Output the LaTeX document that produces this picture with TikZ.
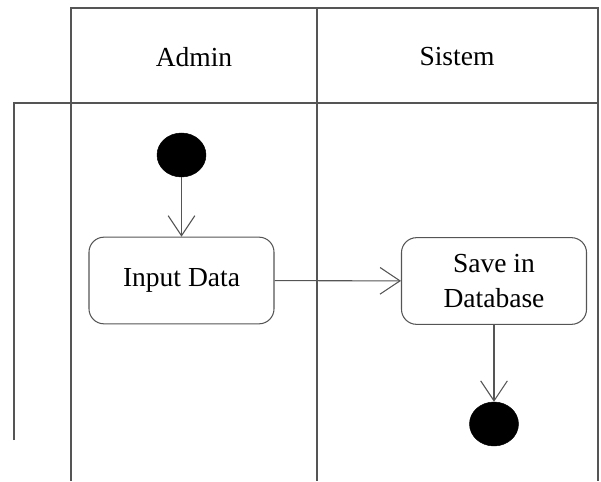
\documentclass[tikz,border=0pt]{standalone}
\usepackage{fontspec}
\setmainfont{Liberation Serif}
\usetikzlibrary{shapes.geometric, arrows.meta, positioning}
\definecolor{lanegray}{RGB}{85, 85, 85}

\begin{document}
\begin{tikzpicture}[
    x=0.03cm, y=-0.03cm,
    lane/.style={draw=lanegray, line width=1.2pt},
    action/.style={rectangle, draw=lanegray, line width=0.9pt, rounded corners=0.45cm, minimum width=5.55cm, minimum height=2.6cm, align=center, font=\fontsize{23.5}{30}\selectfont},
    blob/.style={ellipse, draw=black, fill=black, minimum width=1.47cm, minimum height=1.32cm, inner sep=0pt},
    title/.style={font=\fontsize{23.5}{30}\selectfont},
    arrow/.style={-{Straight Barb[length=0.6cm, width=0.8cm]}, line width=0.9pt, color=lanegray}
]
    \useasboundingbox (0,0) rectangle (601,481);

    % swimlanes
    \draw[lane] (71,8) rectangle (598,103);
    \draw[lane] (317,8) -- (317,481);
    \draw[lane] (71,103) -- (71,481);
    \draw[lane] (598,103) -- (598,481);
    \draw[lane] (14,440) -- (14,103) -- (598,103);
    \node[title] (admin) at (194,57) {Admin};
    \node[title] (sistem) at (457,57) {Sistem};

    % activities
    \node[blob] (start) at (181.5,155) {};
    \node[action] (input) at (181.5,280.5) {Input Data};
    \node[action] (save) at (494,281) {Save in\\Database};
    \node[blob] (stop) at (494,424) {};

    \draw[arrow] (start) -- (input);
    \draw[arrow] (input) -- (save);
    \draw[arrow] (save) -- (stop);
\end{tikzpicture}
\end{document}
